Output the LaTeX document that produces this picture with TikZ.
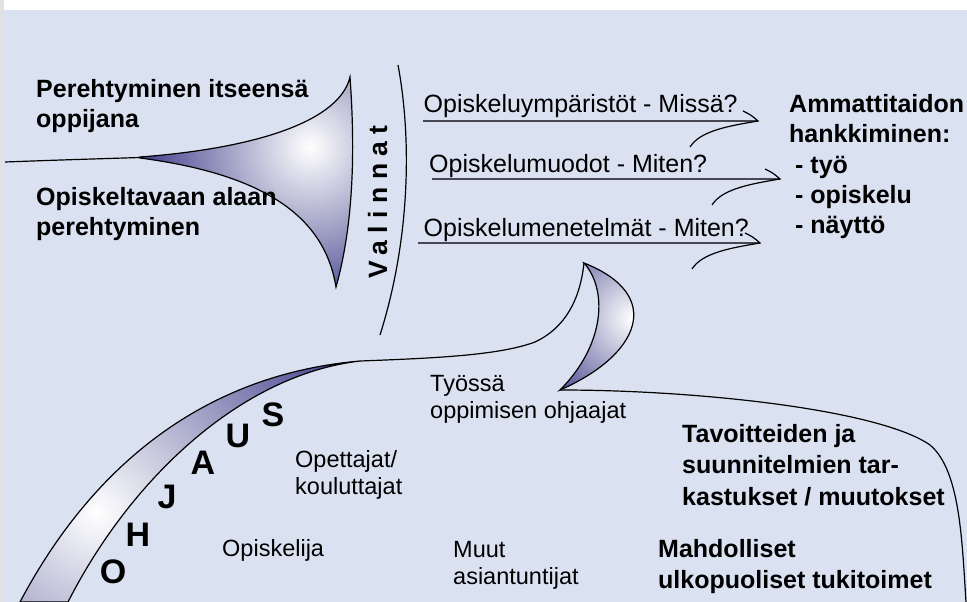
\documentclass[tikz,border=0pt]{standalone}
\usepackage{fontspec}
\setmainfont{Liberation Sans}
\usetikzlibrary{arrows.meta,calc,positioning}

\definecolor{bgblue}{RGB}{218,226,242}
\definecolor{navy}{RGB}{40,40,125}
\definecolor{edgegray}{RGB}{226,226,228}
\definecolor{arrowgray}{RGB}{70,72,84}

\tikzset{
  bigbold/.style={font=\fontsize{25}{30}\selectfont\bfseries,align=left,inner sep=0pt,anchor=base west},
  smalltxt/.style={font=\fontsize{23.5}{27}\selectfont,align=left,inner sep=0pt,anchor=base west},
  arrowtxt/.style={font=\fontsize{25}{30}\selectfont,inner sep=0pt,anchor=base west},
  ohjletter/.style={font=\fontsize{34}{34}\selectfont\bfseries,inner sep=0pt},
  outline/.style={line width=1.2pt,black},
  arrowline/.style={line width=2pt,arrowgray},
  hookline/.style={line width=1.2pt,black},
}

% shaded shapes
\newcommand{\hornpath}{(140,157) .. controls (260,148) and (340,120) .. (350,77)
  .. controls (356,160) and (352,230) .. (336,287)
  .. controls (325,220) and (270,175) .. (140,158) -- cycle}
\newcommand{\bandpath}{(20,602) .. controls (90,470) and (200,375) .. (360,361)
  .. controls (240,375) and (130,480) .. (68,602) -- cycle}
\newcommand{\moonpath}{(584,263) .. controls (608,290) and (605,345) .. (560,390)
  .. controls (640,355) and (665,295) .. (584,263) -- cycle}

\begin{document}
\begin{tikzpicture}[x=1pt,y=-1pt,>=Stealth]
  \useasboundingbox (0,0) rectangle (967,602);
  % background
  \fill[bgblue] (0,0) rectangle (967,602);
  \fill[white] (0,0) rectangle (967,10);
  \fill[edgegray] (0,0) rectangle (4,602);

  % horn
  \begin{scope}
    \clip \hornpath;
    \shade[inner color=white,outer color=navy] (310,147) circle (190);
  \end{scope}
  \draw[outline] \hornpath;
  \draw[outline] (5,162) .. controls (60,160) .. (140,157.5);

  % bracket
  \draw[outline] (398,65) .. controls (412,140) and (410,240) .. (380,335);
  \node[rotate=90,anchor=base,inner sep=0pt,
    font=\fontsize{26.5}{26.5}\selectfont\bfseries\addfontfeatures{LetterSpace=28}] (choices) at (387,202) {Valinnat};

  % arrows
  \foreach \sx/\ly/\tx/\n in {423/121/758/1,432/179/780/2,418/243/760/3}{
    \coordinate (from\n) at (\sx,\ly);
    \coordinate (tip\n) at (\tx,\ly);
    \draw[arrowline] (from\n) -- (tip\n);
    \draw[hookline] ($(tip\n)+(-15,-10)$) .. controls ($(tip\n)+(-7,-6)$) .. (tip\n)
      .. controls ($(tip\n)+(-30,5)$) and ($(tip\n)+(-58,10)$) .. ($(tip\n)+(-68,26)$);
  }
  \node[arrowtxt] (where) at (423.5,112) {Opiskeluympäristöt - Missä?};
  \node[arrowtxt] (how) at (429,172) {Opiskelumuodot - Miten?};
  \node[arrowtxt] (method) at (423.5,236) {Opiskelumenetelmät - Miten?};

  % left and right texts
  \node[bigbold] (selfknow) at (36,128) {Perehtyminen itseensä\\oppijana};
  \node[bigbold] (fieldknow) at (36,235) {Opiskeltavaan alaan\\perehtyminen};
  \node[bigbold] (skills) at (789,142) {Ammattitaidon\\hankkiminen:};
  \node[bigbold] (ways) at (795,233) {- työ\\- opiskelu\\- näyttö};

  % guidance band
  \begin{scope}
    \clip \bandpath;
    \shade[inner color=white,outer color=navy] (97,513) circle (330);
  \end{scope}
  \draw[outline] \bandpath;
  \draw[outline] (360,361) .. controls (440,358) and (500,355) .. (535,342)
    .. controls (565,328) and (580,300) .. (584,263);

  % crescent
  \begin{scope}
    \clip \moonpath;
    \shade[inner color=white,outer color=navy] (632,318) circle (125);
  \end{scope}
  \draw[outline] \moonpath;
  \draw[outline] (560,390) .. controls (700,390) and (880,410) .. (930,445)
    .. controls (960,470) and (962,540) .. (966,602);

  \foreach \ch/\px/\py in {O/113/572,H/138/535,J/167/497,A/203/463,U/238/436,S/273/415}
    \node[ohjletter] (ohj\ch) at (\px,\py) {\ch};

  % who guides
  \node[smalltxt] (mentor) at (430,418) {Työssä\\oppimisen ohjaajat};
  \node[smalltxt] (teacher) at (295,494) {Opettajat/\\kouluttajat};
  \node[smalltxt] (student) at (222,556) {Opiskelija};
  \node[smalltxt] (experts) at (453,584) {Muut\\asiantuntijat};
  \node[bigbold,font=\fontsize{25}{31.5}\selectfont\bfseries] (review) at (682,505) {Tavoitteiden ja\\suunnitelmien tar-\\kastukset / muutokset};
  \node[bigbold,font=\fontsize{25}{31}\selectfont\bfseries] (support) at (658,588) {Mahdolliset\\ulkopuoliset tukitoimet};
\end{tikzpicture}
\end{document}
